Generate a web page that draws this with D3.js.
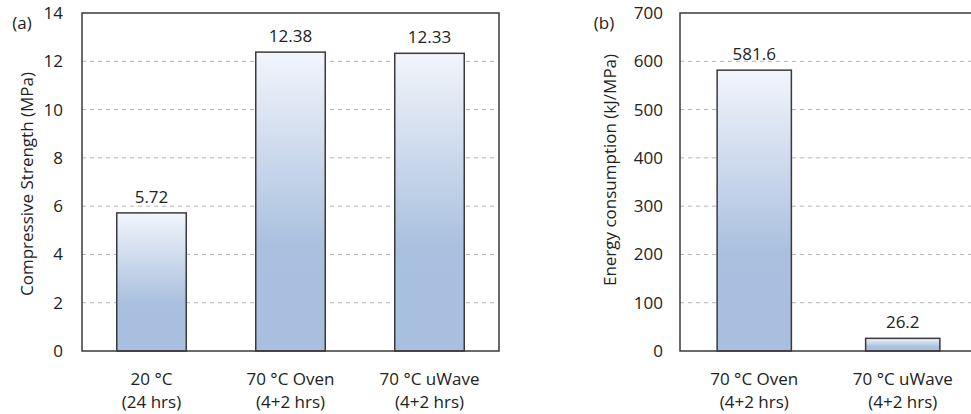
<!DOCTYPE html>
<html>
<head>
<meta charset="utf-8">
<script src="https://cdn.jsdelivr.net/npm/d3@7"></script>
<style>
  body { margin: 0; background: #fff; }
  text { font-family: "Open Sans", sans-serif; fill: #222; }
</style>
</head>
<body>
<svg id="chart" width="971" height="414"></svg>
<script>
// data for panel (a)
var strengthCats = [["20 °C", "(24 hrs)"], ["70 °C Oven", "(4+2 hrs)"], ["70 °C uWave", "(4+2 hrs)"]];
var strengthVals = [5.72, 12.38, 12.33];
var strengthLabels = ["5.72", "12.38", "12.33"];
var strengthTicks = [0, 2, 4, 6, 8, 10, 12, 14];

// data for panel (b)
var energyCats = [["70 °C Oven", "(4+2 hrs)"], ["70 °C uWave", "(4+2 hrs)"]];
var energyVals = [581.6, 26.2];
var energyLabels = ["581.6", "26.2"];
var energyTicks = [0, 100, 200, 300, 400, 500, 600, 700];

var svg = d3.select("#chart");

// gradient fill used by every bar
var grad = svg.append("defs").append("linearGradient")
    .attr("id", "barGrad")
    .attr("x1", 0).attr("y1", 0).attr("x2", 0).attr("y2", 1);
grad.append("stop").attr("offset", "0%").attr("stop-color", "#f2f5fb");
grad.append("stop").attr("offset", "65%").attr("stop-color", "#aac0df");
grad.append("stop").attr("offset", "100%").attr("stop-color", "#a9bfdf");

function drawPanel(opt) {
    var g = svg.append("g");

    var x = d3.scaleBand()
        .domain(d3.range(opt.cats.length))
        .range([opt.left, opt.right])
        .paddingInner(0.5)
        .paddingOuter(0.25);

    var y = d3.scaleLinear()
        .domain([0, d3.max(opt.ticks)])
        .range([opt.bottom, opt.top]);

    // dashed gridlines
    g.selectAll("line.grid")
        .data(opt.ticks.filter(function (t) { return t > 0 && t < d3.max(opt.ticks); }))
        .enter().append("line")
        .attr("class", "grid")
        .attr("x1", opt.left).attr("x2", opt.right)
        .attr("y1", function (d) { return y(d); })
        .attr("y2", function (d) { return y(d); })
        .attr("stroke", "#b3b3b3")
        .attr("stroke-width", 1)
        .attr("stroke-dasharray", "4,4");

    // bars
    g.selectAll("rect.bar")
        .data(opt.vals)
        .enter().append("rect")
        .attr("class", "bar")
        .attr("x", function (d, i) { return x(i); })
        .attr("width", x.bandwidth())
        .attr("y", function (d) { return y(d); })
        .attr("height", function (d) { return opt.bottom - y(d); })
        .attr("fill", "url(#barGrad)")
        .attr("stroke", "#3a3a3a")
        .attr("stroke-width", 1.5);

    // plot area frame
    g.append("rect")
        .attr("x", opt.left).attr("y", opt.top)
        .attr("width", opt.right - opt.left)
        .attr("height", opt.bottom - opt.top)
        .attr("fill", "none")
        .attr("stroke", "#3a3a3a")
        .attr("stroke-width", 1.5);

    // y axis tick labels
    var yAxis = d3.axisLeft(y).tickValues(opt.ticks).tickSize(0).tickPadding(opt.tickPad);
    var ya = g.append("g")
        .attr("transform", "translate(" + opt.left + ",0)")
        .call(yAxis);
    ya.select(".domain").remove();
    ya.selectAll("text")
        .style("font-family", "'Open Sans', sans-serif")
        .style("font-size", "17px")
        .attr("fill", "#222");

    // value labels
    g.selectAll("text.val")
        .data(opt.vals)
        .enter().append("text")
        .attr("class", "val")
        .attr("x", function (d, i) { return x(i) + x.bandwidth() / 2; })
        .attr("y", function (d) { return y(d) - 10; })
        .attr("text-anchor", "middle")
        .style("font-size", "17px")
        .text(function (d, i) { return opt.labels[i]; });

    // category labels, two lines
    var cat = g.selectAll("text.cat")
        .data(opt.cats)
        .enter().append("text")
        .attr("class", "cat")
        .attr("text-anchor", "middle")
        .style("font-size", "17px");
    cat.append("tspan")
        .attr("x", function (d, i) { return x(i) + x.bandwidth() / 2; })
        .attr("y", 385)
        .text(function (d) { return d[0]; });
    cat.append("tspan")
        .attr("x", function (d, i) { return x(i) + x.bandwidth() / 2; })
        .attr("y", 408)
        .text(function (d) { return d[1]; });

    // axis title
    g.append("text")
        .attr("transform", "translate(" + opt.titleX + "," + opt.titleY + ") rotate(-90)")
        .attr("text-anchor", "middle")
        .attr("dy", "0.35em")
        .style("font-size", "17px")
        .text(opt.title);

    // panel letter
    g.append("text")
        .attr("x", opt.letterX).attr("y", 29)
        .attr("text-anchor", "middle")
        .style("font-size", "17px")
        .text(opt.letter);
}

drawPanel({
    cats: strengthCats, vals: strengthVals, labels: strengthLabels, ticks: strengthTicks,
    left: 82, right: 499, top: 13, bottom: 351, tickPad: 19,
    title: "Compressive Strength (MPa)", titleX: 27, titleY: 184, letter: "(a)", letterX: 22
});

drawPanel({
    cats: energyCats, vals: energyVals, labels: energyLabels, ticks: energyTicks,
    left: 680, right: 977, top: 13, bottom: 351, tickPad: 17,
    title: "Energy consumption (kJ/MPa)", titleX: 610, titleY: 170, letter: "(b)", letterX: 604
});
</script>
</body>
</html>
